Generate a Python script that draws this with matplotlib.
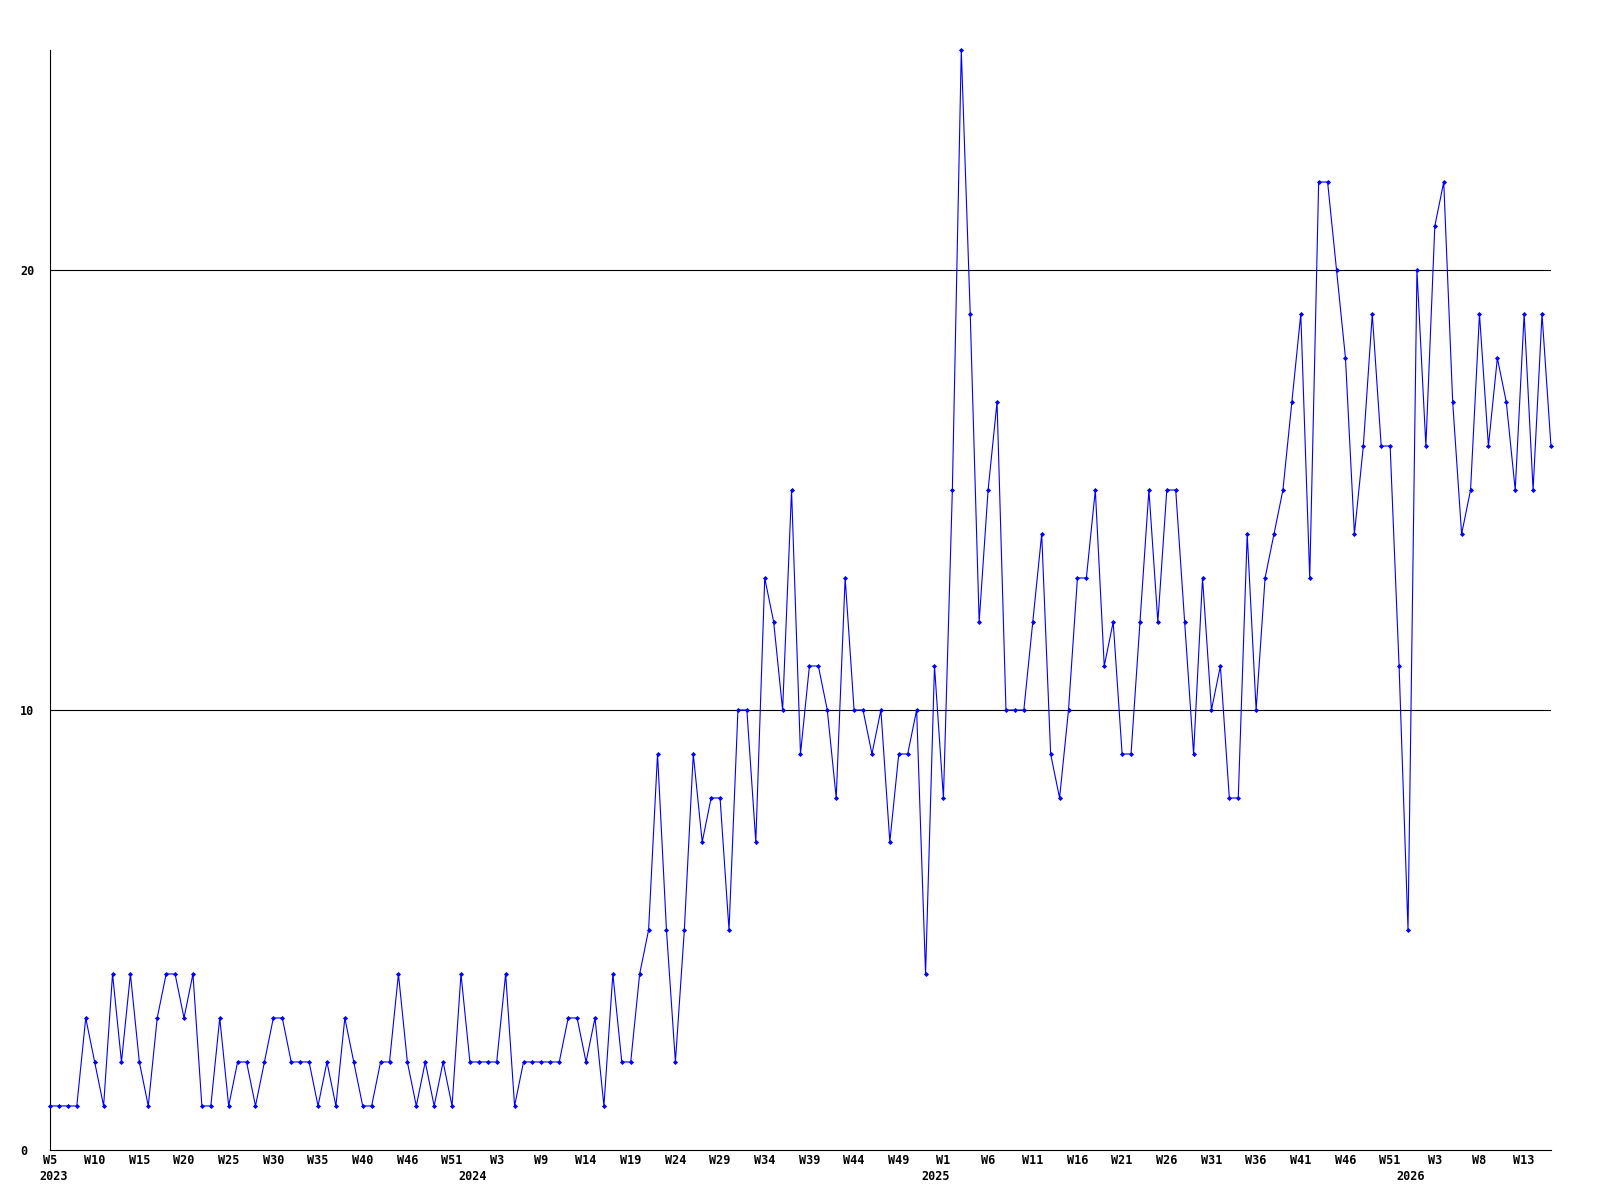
import matplotlib
matplotlib.use("Agg")
import matplotlib.pyplot as plt
from matplotlib.transforms import blended_transform_factory

# weekly counts, 2023 W5 .. 2026 W15
counts_2023 = [1, 1, 1, 1, 3, 2, 1, 4, 2, 4, 2, 1, 3, 4, 4, 3, 4, 1, 1, 3,
               1, 2, 2, 1, 2, 3, 3, 2, 2, 2, 1, 2, 1, 3, 2, 1, 1, 2, 2, 4,
               2, 1, 2, 1, 2, 1, 4, 2]
counts_2024 = [2, 2, 2, 4, 1, 2, 2, 2, 2, 2, 3, 3, 2, 3, 1, 4, 2, 2, 4, 5,
               9, 5, 2, 5, 9, 7, 8, 8, 5, 10, 10, 7, 13, 12, 10, 15, 9, 11, 11, 10,
               8, 13, 10, 10, 9, 10, 7, 9, 9, 10, 4, 11]
counts_2025 = [8, 15, 25, 19, 12, 15, 17, 10, 10, 10, 12, 14, 9, 8, 10, 13, 13, 15, 11, 12,
               9, 9, 12, 15, 12, 15, 15, 12, 9, 13, 10, 11, 8, 8, 14, 10, 13, 14, 15, 17,
               19, 13, 22, 22, 20, 18, 14, 16, 19, 16, 16, 11]
counts_2026 = [5, 20, 16, 21, 22, 17, 14, 15, 19, 16, 18, 17, 15, 19, 15, 19, 16]

counts = counts_2023 + counts_2024 + counts_2025 + counts_2026

# one label every 5 points
week_labels = ["W5", "W10", "W15", "W20", "W25", "W30", "W35", "W40", "W46", "W51",
               "W3", "W9", "W14", "W19", "W24", "W29", "W34", "W39", "W44", "W49",
               "W1", "W6", "W11", "W16", "W21", "W26", "W31", "W36", "W41", "W46",
               "W51", "W3", "W8", "W13"]
year_labels = ["2023", "2024", "2025", "2026"]
year_at = [0.35, 47.3, 99.1, 152.3]

y_ticks = [0, 10, 20]

plt.rcParams['font.family'] = ['DejaVu Sans Mono']

fig = plt.figure(figsize=(16, 12), dpi=100)
ax = fig.add_axes([0.03125, 0.0417, 0.9381, 0.9166])

x = list(range(len(counts)))
ax.plot(x, counts, color='#0000ff', linewidth=0.8, marker='D',
        markersize=2.6, markeredgewidth=0, zorder=3, clip_on=False)

for v in y_ticks[1:]:
    ax.axhline(v, color='black', linewidth=0.8, zorder=2)

ax.set_xlim(0, len(counts) - 1)
ax.set_ylim(0, 25)

ax.spines['top'].set_visible(False)
ax.spines['right'].set_visible(False)
ax.spines['left'].set_linewidth(0.8)
ax.spines['bottom'].set_linewidth(0.8)

ax.set_xticks(range(0, 5 * len(week_labels), 5))
ax.set_xticklabels(week_labels, fontsize=8.5, fontweight='bold')
ax.tick_params(axis='x', length=0, pad=3)

ax.set_yticks(y_ticks)
ax.set_yticklabels([str(v) for v in y_ticks], fontsize=8.5, fontweight='bold')
ax.tick_params(axis='y', length=0, pad=21.6)
for lab in ax.get_yticklabels():
    lab.set_horizontalalignment('left')

trans = blended_transform_factory(ax.transData, fig.transFigure)
for lab, pos in zip(year_labels, year_at):
    ax.text(pos, 1 - 1177 / 1200, lab, transform=trans, ha='center', va='center',
            fontsize=8.5, fontweight='bold')

fig.savefig("out.png", dpi=100)
